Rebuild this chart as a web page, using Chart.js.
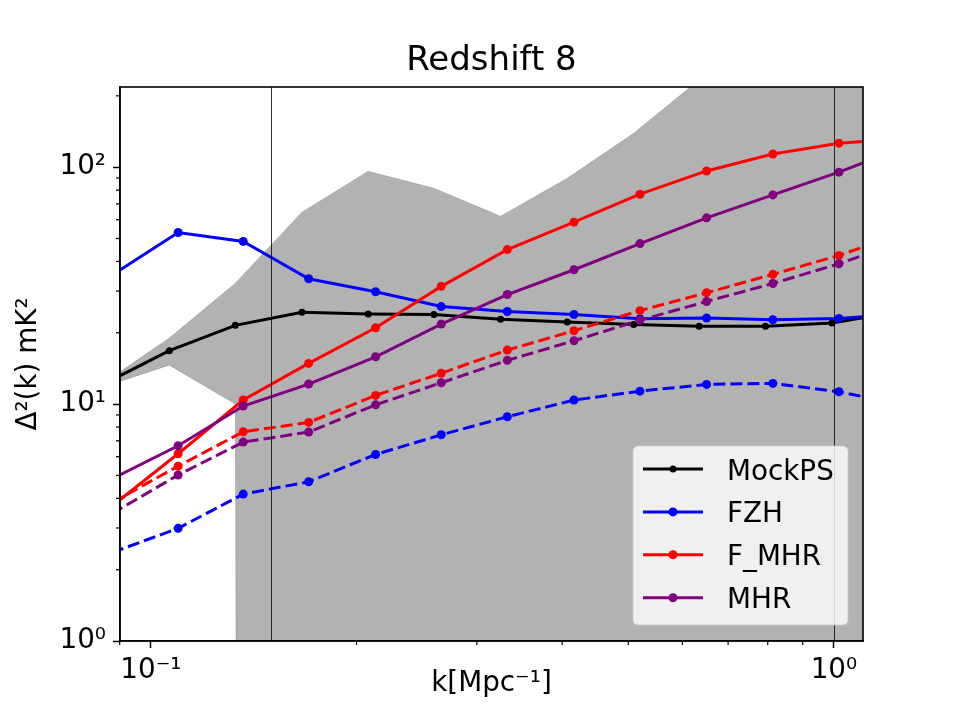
<!DOCTYPE html>
<html>
<head>
<meta charset="utf-8">
<title>Redshift 8</title>
<script src="https://cdn.jsdelivr.net/npm/chart.js@4.4.0/dist/chart.umd.min.js"></script>
<style>
  body { margin: 0; background: #fff; }
</style>
</head>
<body>
<canvas id="myChart" width="960" height="720"></canvas>
<script>
const ctx = document.getElementById('myChart').getContext('2d');
const FONT = "'DejaVu Sans', sans-serif";
const chartTitle = 'Redshift 8';

// k in Mpc^-1 (first and last points sit just outside the axes)
const kMock  = [0.085, 0.1064, 0.1329, 0.1664, 0.208, 0.2596, 0.325, 0.407, 0.509, 0.635, 0.794, 0.993, 1.24];
const kModel = [0.0877, 0.1096, 0.1365, 0.1702, 0.2133, 0.2661, 0.3325, 0.4163, 0.52, 0.651, 0.814, 1.017, 1.27];

const mockPS    = [12.1, 16.8, 21.5, 24.4, 24.0, 23.9, 22.8, 22.2, 21.7, 21.3, 21.3, 22.0, 24.5];
// error band around the mock, lower edge goes non-positive past k~0.14 (clipped like matplotlib)
const bandUpper = [12.2, 19.0, 32.4, 64.6, 96.2, 81.5, 62.1, 89.9, 139, 234, 400, 700, 1200];
const bandLower = [11.8, 14.6, 10.0, 1e-100, 1e-100, 1e-100, 1e-100, 1e-100, 1e-100, 1e-100, 1e-100, 1e-100, 1e-100];

const fzh      = [35.0, 53.0, 48.6, 33.8, 29.8, 25.8, 24.6, 23.9, 22.9, 23.1, 22.7, 23.0, 24.0];
const fzhDash  = [2.36, 2.99, 4.17, 4.70, 6.13, 7.42, 8.84, 10.4, 11.34, 12.11, 12.23, 11.27, 9.9];
const fMhr     = [3.71, 6.17, 10.4, 14.85, 21.0, 31.4, 44.9, 58.6, 76.9, 96.4, 113.7, 126.3, 132];
const fMhrDash = [3.84, 5.47, 7.64, 8.37, 10.88, 13.5, 16.9, 20.4, 24.8, 29.5, 35.3, 42.4, 53];
const mhr      = [4.83, 6.67, 9.81, 12.15, 15.84, 21.76, 29.0, 36.9, 47.6, 61.1, 76.4, 95.3, 122];
const mhrDash  = [3.45, 5.02, 6.91, 7.62, 9.93, 12.3, 15.3, 18.5, 22.6, 27.1, 32.3, 39.1, 49];

const xTicks = [0.1, 1];
const xTickLabels = ['10⁻¹', '10⁰'];
const xMinor = [0.09, 0.2, 0.3, 0.4, 0.5, 0.6, 0.7, 0.8, 0.9];
const yTicks = [1, 10, 100];
const yTickLabels = ['10⁰', '10¹', '10²'];
const yMinor = [2, 3, 4, 5, 6, 7, 8, 9, 20, 30, 40, 50, 60, 70, 80, 90, 200];
const kLines = [0.15, 1.0];

function pts(xs, ys) {
  return xs.map((x, i) => ({x: x, y: ys[i]}));
}

function serie(label, xs, ys, color, dashed, radius, order, inLegend) {
  return {
    label: label,
    data: pts(xs, ys),
    borderColor: color,
    backgroundColor: color,
    borderWidth: 3,
    borderDash: dashed ? [12, 5] : [],
    pointRadius: radius,
    pointBorderWidth: 0,
    pointBackgroundColor: color,
    fill: false,
    tension: 0,
    clip: 0,
    order: order,
    inLegend: inLegend
  };
}

const extras = {
  id: 'extras',
  afterDatasetsDraw(chart) {
    const {ctx, chartArea: a, scales: {x}} = chart;
    ctx.save();
    ctx.strokeStyle = '#000';
    ctx.lineWidth = 0.8;
    kLines.forEach(k => {
      const px = Math.round(x.getPixelForValue(k)) + 0.5;
      ctx.beginPath();
      ctx.moveTo(px, a.top);
      ctx.lineTo(px, a.bottom);
      ctx.stroke();
    });
    ctx.restore();
  },
  afterDraw(chart) {
    const {ctx, chartArea: a, scales: {x, y}} = chart;
    ctx.save();
    // title over the axes centre
    ctx.fillStyle = '#000';
    ctx.font = '34px ' + FONT;
    ctx.textAlign = 'center';
    ctx.textBaseline = 'alphabetic';
    ctx.fillText(chartTitle, (a.left + a.right) / 2, a.top - 17);
    ctx.textAlign = 'left';

    // minor ticks
    ctx.strokeStyle = '#000';
    ctx.lineWidth = 1.2;
    xMinor.forEach(v => {
      const px = x.getPixelForValue(v);
      ctx.beginPath(); ctx.moveTo(px, a.bottom); ctx.lineTo(px, a.bottom + 4); ctx.stroke();
    });
    yMinor.forEach(v => {
      const py = y.getPixelForValue(v);
      if (py < a.top) return;
      ctx.beginPath(); ctx.moveTo(a.left - 4, py); ctx.lineTo(a.left, py); ctx.stroke();
    });
    // frame
    ctx.lineWidth = 1.6;
    ctx.strokeRect(a.left, a.top, a.right - a.left, a.bottom - a.top);

    // legend box, bottom right inside the axes
    const entries = chart.data.datasets.filter(d => d.inLegend);
    const bw = 215, bh = 179, r = 5;
    const right = a.right - 15, bottom = a.bottom - 16;
    const left = right - bw, top = bottom - bh;
    ctx.beginPath();
    ctx.moveTo(left + r, top);
    ctx.lineTo(right - r, top);
    ctx.arcTo(right, top, right, top + r, r);
    ctx.lineTo(right, bottom - r);
    ctx.arcTo(right, bottom, right - r, bottom, r);
    ctx.lineTo(left + r, bottom);
    ctx.arcTo(left, bottom, left, bottom - r, r);
    ctx.lineTo(left, top + r);
    ctx.arcTo(left, top, left + r, top, r);
    ctx.closePath();
    ctx.fillStyle = 'rgba(255,255,255,0.8)';
    ctx.fill();
    ctx.strokeStyle = 'rgba(204,204,204,0.8)';
    ctx.lineWidth = 1;
    ctx.stroke();

    ctx.font = '27.8px ' + FONT;
    entries.forEach((d, i) => {
      const cy = top + 23 + i * 42.9;
      ctx.strokeStyle = d.borderColor;
      ctx.lineWidth = d.borderWidth;
      ctx.beginPath();
      ctx.moveTo(left + 10, cy);
      ctx.lineTo(left + 70, cy);
      ctx.stroke();
      ctx.fillStyle = d.borderColor;
      ctx.beginPath();
      ctx.arc(left + 40, cy, d.pointRadius, 0, Math.PI * 2);
      ctx.fill();
      ctx.fillStyle = '#000';
      ctx.fillText(d.label, left + 94, cy + 10.5);
    });
    ctx.restore();
  }
};

const myChart = new Chart(ctx, {
  type: 'line',
  data: {
    datasets: [
      { label: 'band_hi', data: pts(kMock, bandUpper), borderColor: 'rgba(0,0,0,0.15)', borderWidth: 1,
        backgroundColor: 'rgba(0,0,0,0.3)', fill: '+1', pointRadius: 0, tension: 0, clip: 0, order: 20 },
      { label: 'band_lo', data: pts(kMock, bandLower), borderColor: 'rgba(0,0,0,0.15)', borderWidth: 1,
        fill: false, pointRadius: 0, tension: 0, clip: 0, order: 19 },
      serie('MockPS', kMock, mockPS, '#000000', false, 3.5, 10, true),
      serie('FZH', kModel, fzh, '#0000ff', false, 4.5, 9, true),
      serie('FZH_dash', kModel, fzhDash, '#0000ff', true, 4.5, 8, false),
      serie('F_MHR', kModel, fMhr, '#ff0000', false, 4.5, 7, true),
      serie('F_MHR_dash', kModel, fMhrDash, '#ff0000', true, 4.5, 6, false),
      serie('MHR', kModel, mhr, '#800080', false, 4.5, 5, true),
      serie('MHR_dash', kModel, mhrDash, '#800080', true, 4.5, 4, false)
    ]
  },
  options: {
    responsive: false,
    animation: false,
    events: [],
    layout: { padding: { left: 0, right: 97, top: 87, bottom: 0 } },
    plugins: {
      legend: { display: false },
      tooltip: { enabled: false },
      title: { display: false }
    },
    scales: {
      x: {
        type: 'logarithmic',
        min: 0.0901,
        max: 1.103,
        afterFit: s => { s.height = 79; },
        afterBuildTicks: s => { s.ticks = xTicks.map(v => ({value: v})); },
        ticks: {
          callback: v => { const i = xTicks.indexOf(v); return i >= 0 ? xTickLabels[i] : ''; },
          color: '#000',
          font: { family: FONT, size: 27.8 },
          padding: 6,
          maxRotation: 0,
          autoSkip: false
        },
        grid: { display: true, drawOnChartArea: false, drawTicks: true, tickLength: 7, tickWidth: 1.5, tickColor: '#000' },
        border: { display: true, color: '#000', width: 1.6 },
        title: {
          display: true,
          text: 'k[Mpc⁻¹]',
          color: '#000',
          font: { family: FONT, size: 27.8, lineHeight: 1.2 },
          padding: { top: 0, bottom: 20 }
        }
      },
      y: {
        type: 'logarithmic',
        min: 1,
        max: 218,
        afterFit: s => { s.width = 120; },
        afterBuildTicks: s => { s.ticks = yTicks.map(v => ({value: v})); },
        ticks: {
          callback: v => { const i = yTicks.indexOf(v); return i >= 0 ? yTickLabels[i] : ''; },
          color: '#000',
          font: { family: FONT, size: 27.8 },
          padding: 7,
          autoSkip: false
        },
        grid: { display: true, drawOnChartArea: false, drawTicks: true, tickLength: 7, tickWidth: 1.5, tickColor: '#000' },
        border: { display: true, color: '#000', width: 1.6 },
        title: {
          display: true,
          text: 'Δ²(k) mK²',
          color: '#000',
          font: { family: FONT, size: 27.8, lineHeight: 1.2 },
          padding: { top: 12, bottom: 0 }
        }
      }
    }
  },
  plugins: [extras]
});
</script>
</body>
</html>
